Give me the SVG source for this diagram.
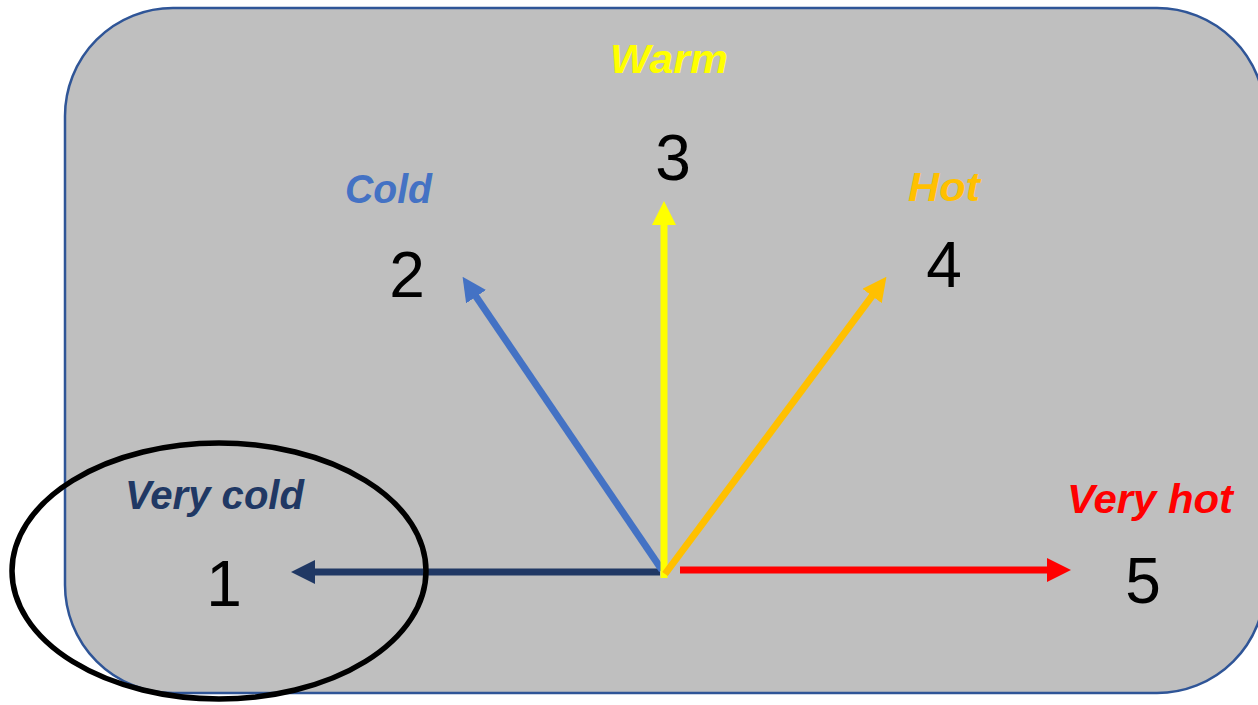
<svg xmlns="http://www.w3.org/2000/svg" width="1258" height="705" viewBox="0 0 1258 705">
  <style>
    .lbl { font-family: "Liberation Sans", Arial, sans-serif; font-weight: bold; font-style: italic; font-size: 40px; text-anchor: middle; }
    .num { font-family: "Liberation Sans", Arial, sans-serif; font-size: 64px; fill: #000; text-anchor: middle; }
    .arr { stroke-width: 7; fill: none; }
  </style>
  <defs>
    <marker id="hNavy" markerUnits="userSpaceOnUse" markerWidth="24" markerHeight="24" refX="1" refY="12" orient="auto"><path d="M0,0 L24,12 L0,24 z" fill="#203864"/></marker>
    <marker id="hBlue" markerUnits="userSpaceOnUse" markerWidth="24" markerHeight="24" refX="1" refY="12" orient="auto"><path d="M0,0 L24,12 L0,24 z" fill="#4472C4"/></marker>
    <marker id="hYellow" markerUnits="userSpaceOnUse" markerWidth="24" markerHeight="24" refX="1" refY="12" orient="auto"><path d="M0,0 L24,12 L0,24 z" fill="#FFFF00"/></marker>
    <marker id="hOrange" markerUnits="userSpaceOnUse" markerWidth="24" markerHeight="24" refX="1" refY="12" orient="auto"><path d="M0,0 L24,12 L0,24 z" fill="#FFC000"/></marker>
    <marker id="hRed" markerUnits="userSpaceOnUse" markerWidth="24" markerHeight="24" refX="1" refY="12" orient="auto"><path d="M0,0 L24,12 L0,24 z" fill="#FF0000"/></marker>
  </defs>

  <g id="panel">
    <rect x="65" y="8" width="1200" height="685" rx="108" ry="108" fill="#BFBFBF" stroke="#2F5597" stroke-width="2.5"/>
  </g>

  <g id="connectors">
    <line class="arr" x1="660" y1="572" x2="314" y2="572" stroke="#203864" marker-end="url(#hNavy)"/>
    <line class="arr" x1="662" y1="570" x2="475.5" y2="295.8" stroke="#4472C4" marker-end="url(#hBlue)"/>
    <line class="arr" x1="664" y1="578" x2="664" y2="224" stroke="#FFFF00" marker-end="url(#hYellow)"/>
    <line class="arr" x1="665" y1="574" x2="872.7" y2="295.2" stroke="#FFC000" marker-end="url(#hOrange)"/>
    <line class="arr" x1="680" y1="570" x2="1048" y2="570" stroke="#FF0000" marker-end="url(#hRed)"/>
  </g>

  <g id="node1">
    <text class="lbl" x="214.5" y="509" fill="#203864" textLength="179" lengthAdjust="spacingAndGlyphs">Very cold</text>
    <text class="num" x="224" y="606">1</text>
  </g>
  <g id="node2">
    <text class="lbl" x="388.5" y="203" fill="#4472C4" textLength="87" lengthAdjust="spacingAndGlyphs">Cold</text>
    <text class="num" x="407" y="297">2</text>
  </g>
  <g id="node3">
    <text class="lbl" x="669" y="73" fill="#FFFF00" textLength="118" lengthAdjust="spacingAndGlyphs">Warm</text>
    <text class="num" x="673" y="180">3</text>
  </g>
  <g id="node4">
    <text class="lbl" x="944" y="201" fill="#FFC000" textLength="72" lengthAdjust="spacingAndGlyphs">Hot</text>
    <text class="num" x="944" y="287">4</text>
  </g>
  <g id="node5">
    <text class="lbl" x="1150" y="513" fill="#FF0000" textLength="166" lengthAdjust="spacingAndGlyphs">Very hot</text>
    <text class="num" x="1143" y="603">5</text>
  </g>

  <g id="highlight">
    <ellipse cx="219" cy="571" rx="207" ry="128" fill="none" stroke="#000" stroke-width="5.5"/>
  </g>
</svg>
